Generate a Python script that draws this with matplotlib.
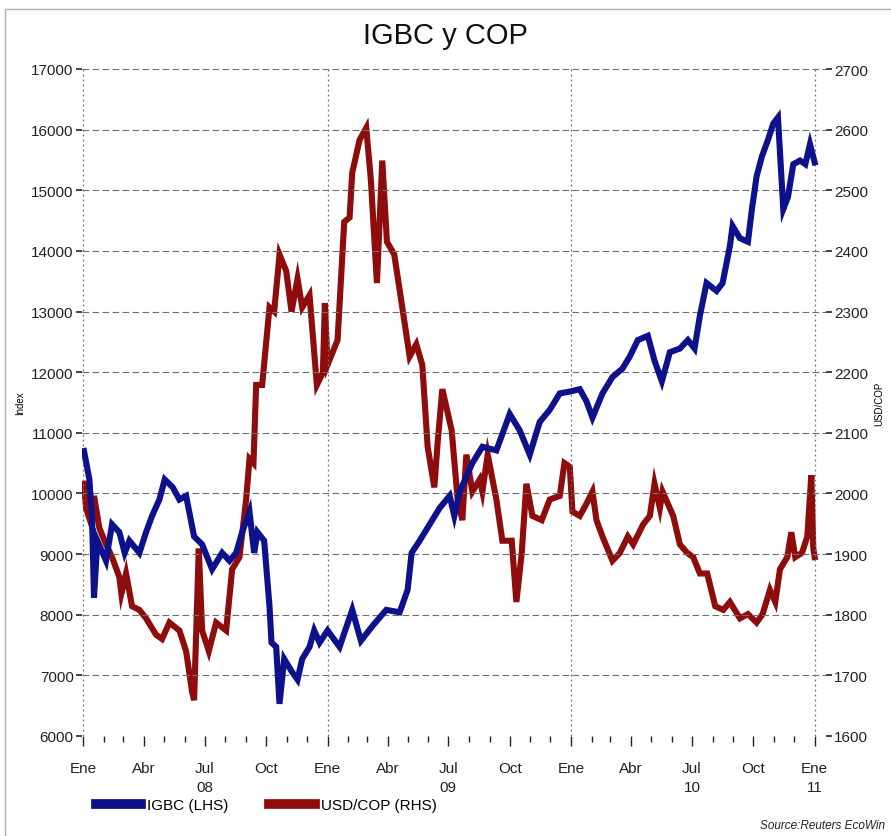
import matplotlib
matplotlib.use('Agg')
import matplotlib.pyplot as plt
import matplotlib.dates as mdates
from matplotlib.patches import Rectangle
from matplotlib.lines import Line2D
import pandas as pd

plt.rcParams['font.family'] = ['Liberation Sans Narrow', 'Liberation Sans', 'DejaVu Sans']

# IGBC index (left axis)
igbc_dates = ['2008-01-02', '2008-01-10', '2008-01-14', '2008-01-17', '2008-01-22', '2008-02-04',
              '2008-02-13', '2008-02-24', '2008-03-03', '2008-03-10', '2008-03-25', '2008-04-04',
              '2008-04-13', '2008-04-24', '2008-05-02', '2008-05-14', '2008-05-24', '2008-06-03',
              '2008-06-15', '2008-06-27', '2008-07-12', '2008-07-27', '2008-08-07', '2008-08-17',
              '2008-08-26', '2008-09-06', '2008-09-13', '2008-09-18', '2008-09-28', '2008-10-06',
              '2008-10-09', '2008-10-16', '2008-10-21', '2008-10-28', '2008-11-08', '2008-11-17',
              '2008-11-24', '2008-12-05', '2008-12-12', '2008-12-20', '2009-01-01', '2009-01-19',
              '2009-02-07', '2009-02-20', '2009-03-09', '2009-03-30', '2009-04-19', '2009-05-01',
              '2009-05-07', '2009-05-19', '2009-06-03', '2009-06-18', '2009-07-03', '2009-07-10',
              '2009-07-18', '2009-08-06', '2009-08-21', '2009-09-11', '2009-10-01', '2009-10-16',
              '2009-10-31', '2009-11-15', '2009-11-30', '2009-12-15', '2009-12-30', '2010-01-14',
              '2010-01-24', '2010-02-02', '2010-02-17', '2010-03-04', '2010-03-19', '2010-03-30',
              '2010-04-11', '2010-04-26', '2010-05-06', '2010-05-17', '2010-05-29', '2010-06-13',
              '2010-06-25', '2010-07-05', '2010-07-13', '2010-07-23', '2010-08-07', '2010-08-16',
              '2010-08-27', '2010-08-31', '2010-09-11', '2010-09-23', '2010-09-29', '2010-10-06',
              '2010-10-14', '2010-10-23', '2010-10-31', '2010-11-07', '2010-11-15', '2010-11-22',
              '2010-11-30', '2010-12-10', '2010-12-18', '2010-12-25', '2011-01-01']
igbc = [10700, 10235, 9630, 8280, 9220, 8890,
        9490, 9360, 9020, 9220, 9020, 9360,
        9630, 9900, 10230, 10100, 9900, 9960,
        9290, 9160, 8750, 9020, 8890, 9020,
        9360, 9700, 9020, 9360, 9220, 8140,
        7540, 7470, 6530, 7270, 7070, 6930,
        7270, 7470, 7740, 7540, 7740, 7470,
        8080, 7570, 7810, 8080, 8040, 8410,
        9020, 9220, 9490, 9760, 9960, 9630,
        10030, 10500, 10770, 10710, 11310, 11040,
        10640, 11180, 11380, 11650, 11680, 11720,
        11520, 11250, 11650, 11920, 12060, 12260,
        12530, 12600, 12190, 11850, 12330, 12390,
        12530, 12390, 12930, 13470, 13340, 13470,
        14080, 14410, 14210, 14150, 14690, 15230,
        15560, 15830, 16100, 16200, 14690, 14890,
        15430, 15490, 15430, 15760, 15460]

# USD/COP exchange rate (right axis)
cop_dates = ['2008-01-02', '2008-01-05', '2008-01-13', '2008-01-17', '2008-01-25', '2008-02-04',
             '2008-02-13', '2008-02-24', '2008-02-27', '2008-03-05', '2008-03-14', '2008-03-25',
             '2008-04-04', '2008-04-19', '2008-04-28', '2008-05-09', '2008-05-24', '2008-06-03',
             '2008-06-12', '2008-06-15', '2008-06-22', '2008-06-27', '2008-07-07', '2008-07-18',
             '2008-08-02', '2008-08-11', '2008-08-22', '2008-09-01', '2008-09-06', '2008-09-12',
             '2008-09-16', '2008-09-25', '2008-10-06', '2008-10-13', '2008-10-21', '2008-10-31',
             '2008-11-08', '2008-11-17', '2008-11-24', '2008-12-05', '2008-12-16', '2008-12-25',
             '2008-12-28', '2009-01-01', '2009-01-16', '2009-01-26', '2009-02-03', '2009-02-07',
             '2009-02-18', '2009-02-28', '2009-03-07', '2009-03-16', '2009-03-24', '2009-03-31',
             '2009-04-11', '2009-04-22', '2009-05-04', '2009-05-14', '2009-05-23', '2009-05-31',
             '2009-06-10', '2009-06-15', '2009-06-22', '2009-07-06', '2009-07-15', '2009-07-22',
             '2009-07-28', '2009-08-06', '2009-08-17', '2009-08-21', '2009-08-29', '2009-09-11',
             '2009-09-20', '2009-10-04', '2009-10-11', '2009-10-19', '2009-10-26', '2009-11-04',
             '2009-11-18', '2009-11-30', '2009-12-15', '2009-12-22', '2009-12-30', '2010-01-03',
             '2010-01-14', '2010-01-24', '2010-02-02', '2010-02-08', '2010-02-17', '2010-03-04',
             '2010-03-15', '2010-03-27', '2010-04-04', '2010-04-19', '2010-04-29', '2010-05-06',
             '2010-05-14', '2010-05-18', '2010-06-03', '2010-06-13', '2010-06-24', '2010-07-03',
             '2010-07-13', '2010-07-24', '2010-08-05', '2010-08-17', '2010-08-27', '2010-09-11',
             '2010-09-23', '2010-10-06', '2010-10-15', '2010-10-26', '2010-11-03', '2010-11-10',
             '2010-11-21', '2010-11-27', '2010-12-03', '2010-12-13', '2010-12-21', '2010-12-27',
             '2010-12-30', '2011-01-01']
usdcop = [2016, 1976, 1949, 1996, 1943, 1916,
          1895, 1862, 1835, 1868, 1814, 1808,
          1794, 1767, 1760, 1787, 1774, 1740,
          1673, 1659, 1909, 1774, 1740, 1787,
          1774, 1875, 1895, 1990, 2057, 2050,
          2179, 2179, 2307, 2300, 2394, 2367,
          2300, 2354, 2307, 2327, 2179, 2199,
          2314, 2212, 2253, 2448, 2455, 2529,
          2583, 2603, 2516, 2347, 2549, 2415,
          2394, 2314, 2226, 2246, 2212, 2077,
          2010, 2084, 2172, 2104, 1990, 1956,
          2064, 2003, 2023, 2003, 2064, 1990,
          1922, 1922, 1821, 1902, 2016, 1963,
          1956, 1990, 1996, 2050, 2044, 1970,
          1963, 1983, 2003, 1956, 1929, 1889,
          1902, 1929, 1916, 1949, 1963, 2016,
          1976, 2003, 1963, 1916, 1902, 1895,
          1868, 1868, 1814, 1808, 1821, 1794,
          1801, 1787, 1801, 1841, 1821, 1875,
          1895, 1936, 1895, 1902, 1929, 2030,
          1909, 1895]

month_names = {1: 'Ene', 4: 'Abr', 7: 'Jul', 10: 'Oct'}
year_labels = ['08', '09', '10', '11']
year_label_dates = ['2008-07-01', '2009-07-01', '2010-07-01', '2011-01-01']

blue = '#0d128c'
red = '#8e0c0c'

fig = plt.figure(figsize=(8.91, 8.37), dpi=100)
fig.patch.set_facecolor('white')
fig.patches.append(Rectangle((5 / 891, -0.01), 1.0, 1 - 10 / 837 + 0.01, transform=fig.transFigure,
                             fill=False, edgecolor='#b0b0b0', linewidth=1.0))

ax = fig.add_axes([82 / 891, 1 - 737 / 837, (826 - 82) / 891, (737 - 70) / 837])
ax2 = ax.twinx()

ax.plot(pd.to_datetime(igbc_dates), igbc, color=blue, linewidth=4.4, solid_joinstyle='miter')
ax2.plot(pd.to_datetime(cop_dates), usdcop, color=red, linewidth=4.4, solid_joinstyle='miter')
# blue on top, gray background carried by the twin axes underneath
ax.set_zorder(ax2.get_zorder() + 1)
ax.patch.set_visible(False)
ax2.set_facecolor('#c0c0c0')

ax.set_xlim(pd.Timestamp('2007-12-30'), pd.Timestamp('2011-01-18'))
ax.set_ylim(6000, 17000)
ax2.set_ylim(1600, 2700)
ax.set_yticks(range(6000, 17001, 1000))
ax2.set_yticks(range(1600, 2701, 100))

ax.xaxis.set_major_locator(mdates.MonthLocator(bymonth=[1, 4, 7, 10]))
ax.xaxis.set_minor_locator(mdates.MonthLocator())
ax.xaxis.set_major_formatter(plt.FuncFormatter(lambda v, p: month_names[mdates.num2date(v).month]))

for yv in range(7000, 17001, 1000):
    ax.axhline(yv, color='#6e6e6e', linestyle=(0, (6, 3)), linewidth=0.8, zorder=0)
for d in ['2008-01-01', '2009-01-01', '2010-01-01', '2011-01-01']:
    ax.axvline(pd.Timestamp(d), color='#6e6e6e', linestyle=(0, (1.5, 2.5)), linewidth=0.9, zorder=0)

for a in (ax, ax2):
    for s in a.spines.values():
        s.set_visible(False)

ax.tick_params(axis='x', which='major', length=7, width=1, colors='#222222', labelsize=11, pad=11)
ax.tick_params(axis='x', which='minor', length=4, width=1, colors='#222222')
ax.tick_params(axis='y', length=4, width=1.2, colors='#222222', labelsize=11, pad=2)
ax2.tick_params(axis='y', length=4, width=1.2, colors='#222222', labelsize=11, pad=2)

for lab, d in zip(year_labels, year_label_dates):
    ax.text(pd.Timestamp(d), -0.077, lab, transform=ax.get_xaxis_transform(),
            ha='center', va='center', fontsize=11, color='#222222')

ax.set_ylabel('Index', fontsize=7, labelpad=4)
ax2.set_ylabel('USD/COP', fontsize=7, labelpad=4, rotation=90)

fig.text(0.5, 1 - 36 / 837, 'IGBC y COP', ha='center', va='center', fontsize=21, color='#111111')

handles = [Line2D([], [], color=blue, linewidth=7), Line2D([], [], color=red, linewidth=7)]
fig.legend(handles, ['IGBC (LHS)', 'USD/COP (RHS)'], loc='center left',
           bbox_to_anchor=(88 / 891, 1 - 806 / 837), ncol=2, frameon=False, borderpad=0,
           handlelength=3.0, handletextpad=0.35, columnspacing=2.7, fontsize=11)

fig.text(1 - 6 / 891, 1 - 826 / 837, 'Source:Reuters EcoWin', ha='right', va='center',
         fontsize=8.5, style='italic', color='#222222')

fig.savefig('out.png', dpi=100)
